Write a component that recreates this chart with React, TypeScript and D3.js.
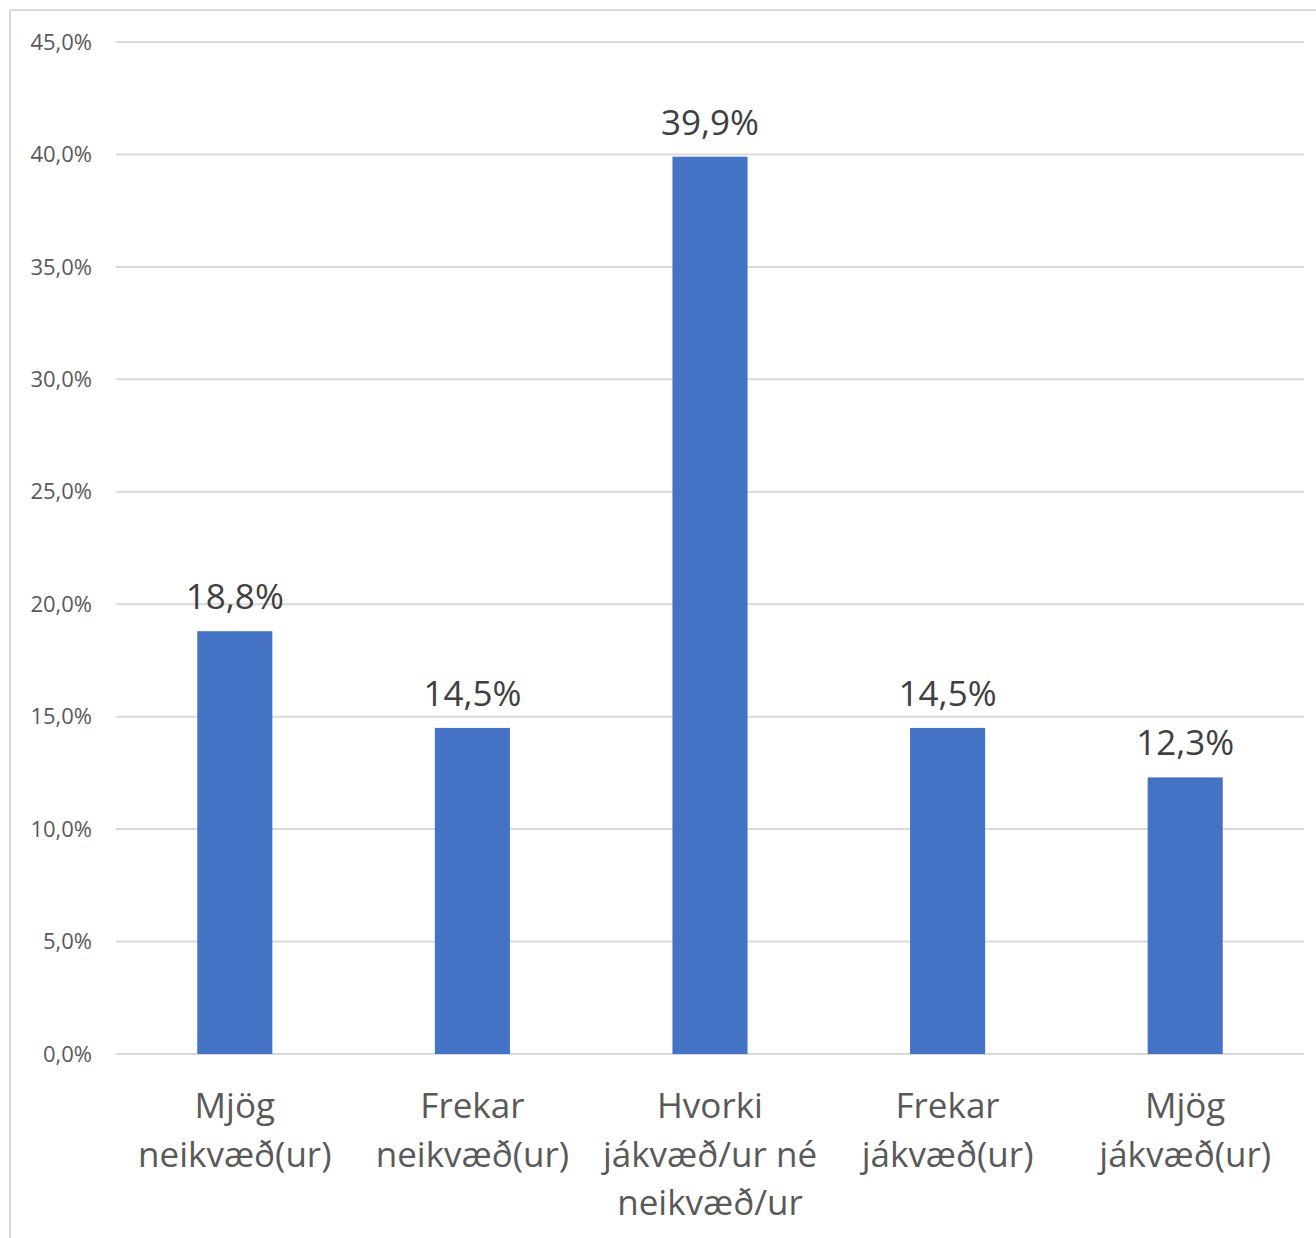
import React from "react";
import * as d3 from "d3";

const categories: string[][] = [
  ["Mjög", "neikvæð(ur)"],
  ["Frekar", "neikvæð(ur)"],
  ["Hvorki", "jákvæð/ur né", "neikvæð/ur"],
  ["Frekar", "jákvæð(ur)"],
  ["Mjög", "jákvæð(ur)"],
];
const values: number[] = [18.8, 14.5, 39.9, 14.5, 12.3];
const ticks: number[] = [0, 5, 10, 15, 20, 25, 30, 35, 40, 45];

const W = 1316;
const H = 1238;
const FONT = "'Open Sans', 'Noto Sans', sans-serif";

export default function App() {
  const x = d3
    .scaleBand<number>()
    .domain(values.map((_, i) => i))
    .range([116, 1304])
    .paddingInner(0.684)
    .paddingOuter(0.342);
  const y = d3.scaleLinear().domain([0, 45]).range([1054, 42]);
  const fmt = (v: number) => v.toFixed(1).replace(".", ",") + "%";

  return (
    <svg
      width={W}
      height={H}
      style={{ position: "absolute", left: 0, top: 0, background: "#fff" }}
      fontFamily={FONT}
    >
      <rect x={0} y={0} width={W} height={H} fill="#fff" />
      <line x1={10} y1={10} x2={W} y2={10} stroke="#d9d9d9" strokeWidth={2} />
      <line x1={10} y1={10} x2={10} y2={H} stroke="#d9d9d9" strokeWidth={2} />
      {ticks.map((t) => (
        <g key={t}>
          <line x1={116} x2={1304} y1={y(t)} y2={y(t)} stroke="#d9d9d9" strokeWidth={2} />
          <text x={92} y={y(t)} dy="0.35em" textAnchor="end" fontSize={22} fill="#595959">
            {fmt(t)}
          </text>
        </g>
      ))}
      {values.map((v, i) => (
        <g key={i}>
          <rect
            x={x(i)!}
            y={y(v)}
            width={x.bandwidth()}
            height={y(0) - y(v)}
            fill="#4472C4"
          />
          <text
            x={x(i)! + x.bandwidth() / 2}
            y={y(v) - 22}
            textAnchor="middle"
            fontSize={35}
            fill="#404040"
          >
            {fmt(v)}
          </text>
          <text textAnchor="middle" fontSize={35} fill="#595959">
            {categories[i].map((line, j) => (
              <tspan key={j} x={x(i)! + x.bandwidth() / 2} y={1118 + j * 48.5}>
                {line}
              </tspan>
            ))}
          </text>
        </g>
      ))}
    </svg>
  );
}
